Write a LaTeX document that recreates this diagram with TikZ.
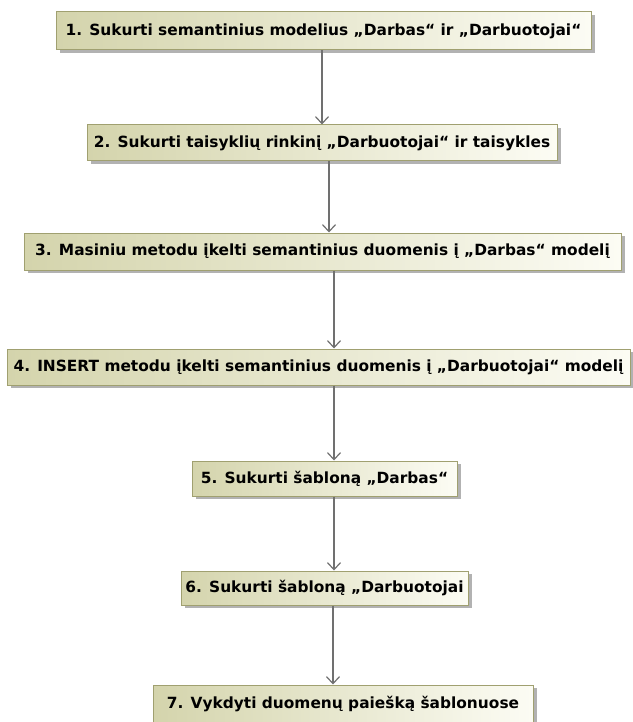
\documentclass[tikz,border=0pt]{standalone}
\usepackage{fontspec}
\setmainfont{DejaVu Sans}
\usetikzlibrary{shadows,arrows.meta}

\definecolor{boxleft}{RGB}{212,212,172}
\definecolor{boxright}{RGB}{252,252,244}
\definecolor{boxline}{RGB}{160,160,112}
\definecolor{shadowgray}{RGB}{178,178,178}
\definecolor{linegray}{RGB}{112,112,112}

\tikzset{
  stepbox/.style={draw=boxline, line width=1pt,
    left color=boxleft, right color=boxright,
    drop shadow={shadow xshift=4pt, shadow yshift=-3pt, fill=shadowgray, opacity=1},
    font=\bfseries\fontsize{15.4}{18}\selectfont, inner sep=0pt},
  flow/.style={draw=linegray, line width=1.2pt,
    -{Straight Barb[length=7pt,width=13pt,line width=1.2pt]}}
}

\begin{document}
\begin{tikzpicture}[x=1pt,y=-1pt]
\useasboundingbox (0,0) rectangle (632,722);

% activity steps
\node[stepbox, minimum width=535pt, minimum height=38pt] (b1) at (323.5,31)
  {1. Sukurti semantinius modelius „Darbas“ ir „Darbuotojai“};
\node[stepbox, minimum width=470pt, minimum height=36pt] (b2) at (322,143)
  {2. Sukurti taisyklių rinkinį „Darbuotojai“ ir taisykles};
\node[stepbox, minimum width=597pt, minimum height=37pt] (b3) at (322.5,251.5)
  {3. Masiniu metodu įkelti semantinius duomenis į „Darbas“ modelį};
\node[stepbox, minimum width=623pt, minimum height=36pt] (b4) at (318.5,367)
  {4. INSERT metodu įkelti semantinius duomenis į „Darbuotojai“ modelį};
\node[stepbox, minimum width=265pt, minimum height=35pt] (b5) at (324.5,478.5)
  {5. Sukurti šabloną „Darbas“};
\node[stepbox, minimum width=287pt, minimum height=34pt] (b6) at (324.5,588)
  {6. Sukurti šabloną „Darbuotojai};
\node[stepbox, minimum width=380pt, minimum height=37pt] (b7) at (343,703.5)
  {7. Vykdyti duomenų paiešką šablonuose};

% horizontal positions of the connectors
\coordinate (c1) at (322,0);
\coordinate (c2) at (329,0);
\coordinate (c3) at (334,0);
\coordinate (c4) at (334,0);
\coordinate (c5) at (334,0);
\coordinate (c6) at (333,0);

\draw[flow] (b1.south -| c1) -- (b2.north -| c1);
\draw[flow] (b2.south -| c2) -- (b3.north -| c2);
\draw[flow] (b3.south -| c3) -- (b4.north -| c3);
\draw[flow] (b4.south -| c4) -- (b5.north -| c4);
\draw[flow] (b5.south -| c5) -- (b6.north -| c5);
\draw[flow] (b6.south -| c6) -- (b7.north -| c6);
\end{tikzpicture}
\end{document}
